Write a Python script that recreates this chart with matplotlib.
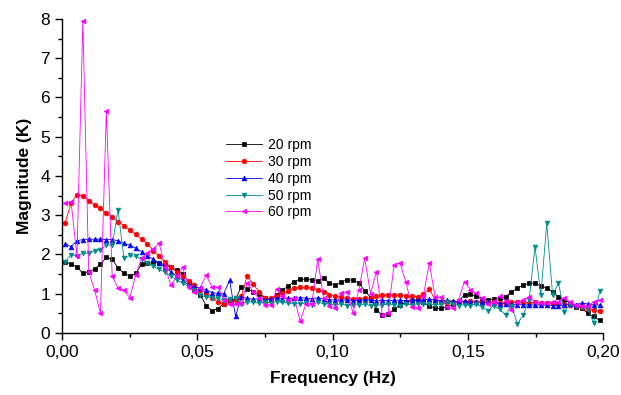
import numpy as np
import matplotlib
matplotlib.use("Agg")
import matplotlib.pyplot as plt
from matplotlib.ticker import MultipleLocator, FuncFormatter

plt.rcParams['font.family'] = ['Liberation Sans', 'DejaVu Sans']

# Frequency bins (Hz): uniform FFT grid
f0 = 0.0012
df = 0.00217
n_bins = 92
freq = f0 + df * np.arange(n_bins)

rpm20 = [1.82, 1.75, 1.69, 1.52, 1.56, 1.63, 1.75, 1.93, 1.88, 1.65,
         1.52, 1.45, 1.52, 1.75, 1.78, 1.79, 1.79, 1.73, 1.67, 1.60,
         1.50, 1.30, 1.12, 0.97, 0.70, 0.57, 0.62, 0.75, 0.85, 0.86,
         1.18, 1.12, 1.05, 0.99, 0.88, 0.84, 0.97, 1.09, 1.20, 1.31,
         1.37, 1.37, 1.35, 1.33, 1.39, 1.27, 1.22, 1.30, 1.35, 1.35,
         1.27, 1.08, 0.90, 0.59, 0.45, 0.48, 0.60, 0.71, 0.78, 0.82,
         0.85, 0.78, 0.69, 0.63, 0.63, 0.66, 0.74, 0.82, 0.97, 0.99,
         0.93, 0.86, 0.84, 0.86, 0.88, 0.92, 1.05, 1.14, 1.22, 1.27,
         1.27, 1.20, 1.14, 1.05, 0.92, 0.84, 0.77, 0.67, 0.63, 0.50,
         0.42, 0.32]

rpm30 = [2.81, 3.32, 3.52, 3.50, 3.37, 3.26, 3.18, 3.05, 2.95, 2.84,
         2.73, 2.62, 2.51, 2.39, 2.27, 2.10, 1.95, 1.80, 1.68, 1.55,
         1.45, 1.33, 1.22, 1.10, 1.00, 0.90, 0.78, 0.75, 0.78, 0.85,
         0.95, 1.45, 1.25, 1.05, 0.90, 0.88, 0.93, 1.01, 1.08, 1.14,
         1.16, 1.16, 1.14, 1.09, 1.05, 0.97, 0.95, 0.92, 0.88, 0.87,
         0.87, 0.88, 0.90, 0.94, 0.96, 0.97, 0.97, 0.96, 0.95, 0.93,
         0.92, 1.00, 1.11, 0.85, 0.80, 0.80, 0.80, 0.78, 0.80, 0.82,
         0.80, 0.79, 0.78, 0.78, 0.76, 0.77, 0.78, 0.79, 0.78, 0.77,
         0.78, 0.77, 0.76, 0.77, 0.75, 0.73, 0.72, 0.70, 0.66, 0.62,
         0.58, 0.55]

rpm40 = [2.27, 2.20, 2.35, 2.38, 2.39, 2.39, 2.39, 2.38, 2.38, 2.35,
         2.28, 2.24, 2.16, 2.07, 1.96, 1.88, 1.78, 1.67, 1.56, 1.44,
         1.35, 1.22, 1.17, 1.14, 1.10, 1.03, 1.01, 1.00, 1.35, 0.43,
         0.92, 0.88, 0.86, 0.87, 0.85, 0.86, 0.88, 0.87, 0.89, 0.88,
         0.90, 0.89, 0.87, 0.90, 0.86, 0.85, 0.84, 0.83, 0.85, 0.82,
         0.84, 0.83, 0.85, 0.82, 0.83, 0.82, 0.84, 0.83, 0.82, 0.84,
         0.83, 0.85, 0.86, 0.84, 0.82, 0.83, 0.81, 0.80, 0.81, 0.79,
         0.78, 0.79, 0.78, 0.77, 0.75, 0.74, 0.73, 0.72, 0.72, 0.71,
         0.71, 0.72, 0.71, 0.70, 0.70, 0.71, 0.73, 0.72, 0.76, 0.74,
         0.72, 0.71]

rpm50 = [1.82, 1.99, 1.96, 2.03, 2.03, 2.08, 2.12, 2.24, 2.24, 3.13,
         1.90, 1.98, 1.95, 1.88, 1.78, 1.70, 1.62, 1.55, 1.45, 1.35,
         1.27, 1.18, 1.10, 0.97, 0.92, 0.90, 0.88, 0.84, 0.86, 0.88,
         0.75, 0.80, 0.78, 0.76, 0.78, 0.77, 0.80, 0.78, 0.76, 0.75,
         0.74, 0.76, 0.72, 0.78, 0.75, 0.73, 0.72, 0.74, 0.70, 0.72,
         0.71, 0.73, 0.70, 0.72, 0.71, 0.74, 0.72, 0.70, 0.73, 0.72,
         0.74, 0.75, 0.73, 0.72, 0.74, 0.78, 0.75, 0.70, 0.72, 0.70,
         0.74, 0.66, 0.57, 0.70, 0.60, 0.46, 0.70, 0.23, 0.46, 0.84,
         2.20, 0.97, 2.79, 0.97, 1.27, 0.54, 0.75, 0.70, 0.66, 0.62,
         0.25, 1.07]

rpm60 = [3.32, 3.34, 1.95, 7.95, 1.55, 1.10, 0.50, 5.65, 1.44, 1.14,
         1.09, 0.90, 1.48, 1.90, 2.05, 2.15, 2.28, 1.69, 1.22, 1.44,
         1.67, 1.18, 1.05, 1.15, 1.47, 1.17, 1.17, 0.85, 0.74, 0.74,
         0.76, 1.28, 1.05, 0.88, 0.71, 0.71, 1.11, 0.93, 0.85, 0.90,
         0.31, 0.74, 0.74, 1.88, 0.90, 0.70, 0.63, 1.03, 1.05, 0.51,
         1.10, 1.90, 1.00, 1.56, 0.46, 0.50, 1.73, 1.79, 1.31, 0.67,
         0.63, 0.95, 1.78, 0.91, 0.91, 0.65, 0.63, 0.85, 1.31, 1.10,
         1.01, 0.88, 0.75, 0.80, 0.94, 0.82, 0.58, 0.78, 0.85, 0.92,
         0.78, 0.76, 0.77, 0.78, 0.80, 0.90, 0.78, 0.72, 0.70, 0.68,
         0.80, 0.84]

labels = ['20 rpm', '30 rpm', '40 rpm', '50 rpm', '60 rpm']
series = [rpm20, rpm30, rpm40, rpm50, rpm60]
colors = ['#000000', '#ff0000', '#0000ff', '#008b8b', '#ff00ff']
markers = ['s', 'o', '^', 'v', '<']

fig = plt.figure(figsize=(6.21, 3.95), dpi=100)
ax = fig.add_axes([0.0998, 0.157, 0.8715, 0.795])

for y, lab, c, m in zip(series, labels, colors, markers):
    ax.plot(freq, y, color=c, marker=m, markersize=3.4, linewidth=0.6,
            markeredgewidth=0.5, label=lab)

ax.set_xlim(0, 0.2)
ax.set_ylim(0, 8)
ax.xaxis.set_major_locator(MultipleLocator(0.05))
ax.xaxis.set_minor_locator(MultipleLocator(0.025))
ax.yaxis.set_major_locator(MultipleLocator(1))
ax.yaxis.set_minor_locator(MultipleLocator(0.5))
ax.xaxis.set_major_formatter(FuncFormatter(lambda v, p: f"{v:.2f}".replace('.', ',')))
ax.yaxis.set_major_formatter(FuncFormatter(lambda v, p: f"{int(round(v))}"))

for s in ['top', 'right']:
    ax.spines[s].set_visible(False)
for s in ['left', 'bottom']:
    ax.spines[s].set_linewidth(1.0)
ax.tick_params(which='major', direction='out', length=5, width=1, labelsize=12.5)
ax.tick_params(which='minor', direction='out', length=3, width=1)

ax.set_xlabel('Frequency (Hz)', fontsize=12.5, fontweight='bold', labelpad=8)
ax.set_ylabel('Magnitude (K)', fontsize=12.5, fontweight='bold', labelpad=6)

leg = ax.legend(loc='upper left', bbox_to_anchor=(0.28, 0.66), frameon=False,
                fontsize=10, handlelength=2.6, handletextpad=0.4,
                labelspacing=0.2)

fig.savefig('out.png', dpi=100)
